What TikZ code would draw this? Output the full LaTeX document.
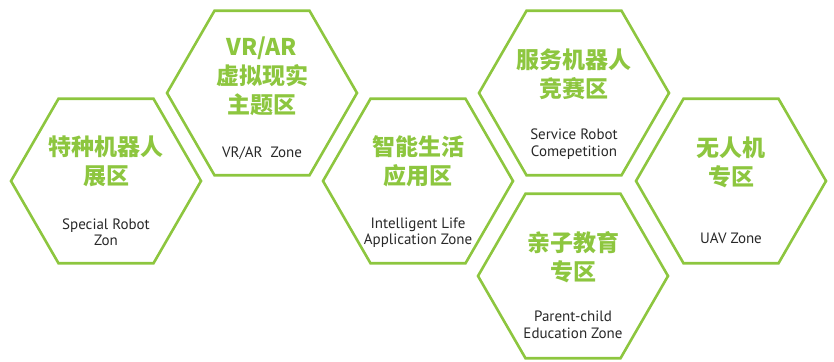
\documentclass[tikz,border=0pt]{standalone}
\usepackage{fontspec}
\setmainfont{PT Sans}
\newfontfamily\cjk{Noto Sans CJK SC}
\usetikzlibrary{shapes.geometric}
\definecolor{zonegreen}{RGB}{141,198,63}
\definecolor{zonegray}{RGB}{40,40,40}

\begin{document}
\begin{tikzpicture}[x=1pt,y=-1pt,
	hexzone/.style={draw=zonegreen,line width=2.6pt,regular polygon,regular polygon sides=6,
		minimum size=190pt,inner sep=0pt},
	cnlabel/.style={text=zonegreen,font=\cjk\bfseries\fontsize{23}{29}\selectfont,align=center},
	enlabel/.style={text=zonegray,font=\fontsize{15}{16.5}\selectfont,align=center}]
	\useasboundingbox (0,0) rectangle (834,361);

	% the six zones
	\foreach \x/\y/\nm in {106/181/special,262/93/vrar,418/181/life,
			574/93/service,573/276/parent,731/181/uav}
		\node[hexzone] (\nm) at (\x,\y) {};

	\node[cnlabel] (special-cn) at (106,161.5) {特种机器人\\展区};
	\node[enlabel] (special-en) at (106,232) {Special Robot\\Zon};

	\node[cnlabel] (vrar-cn) at (262,76) {VR/AR\\虚拟现实\\主题区};
	\node[enlabel] (vrar-en) at (262,153) {VR/AR\ \ Zone};

	\node[cnlabel] (life-cn) at (418,161.5) {智能生活\\应用区};
	\node[enlabel] (life-en) at (418,232.5) {Intelligent Life\\Application Zone};

	\node[cnlabel] (service-cn) at (574,74) {服务机器人\\竞赛区};
	\node[enlabel] (service-en) at (574,144) {Service Robot\\Comepetition};

	\node[cnlabel] (parent-cn) at (573,257.5) {亲子教育\\专区};
	\node[enlabel] (parent-en) at (573,325) {Parent-child\\Education Zone};

	\node[cnlabel] (uav-cn) at (731,162) {无人机\\专区};
	\node[enlabel] (uav-en) at (731,238) {UAV Zone};
\end{tikzpicture}
\end{document}
